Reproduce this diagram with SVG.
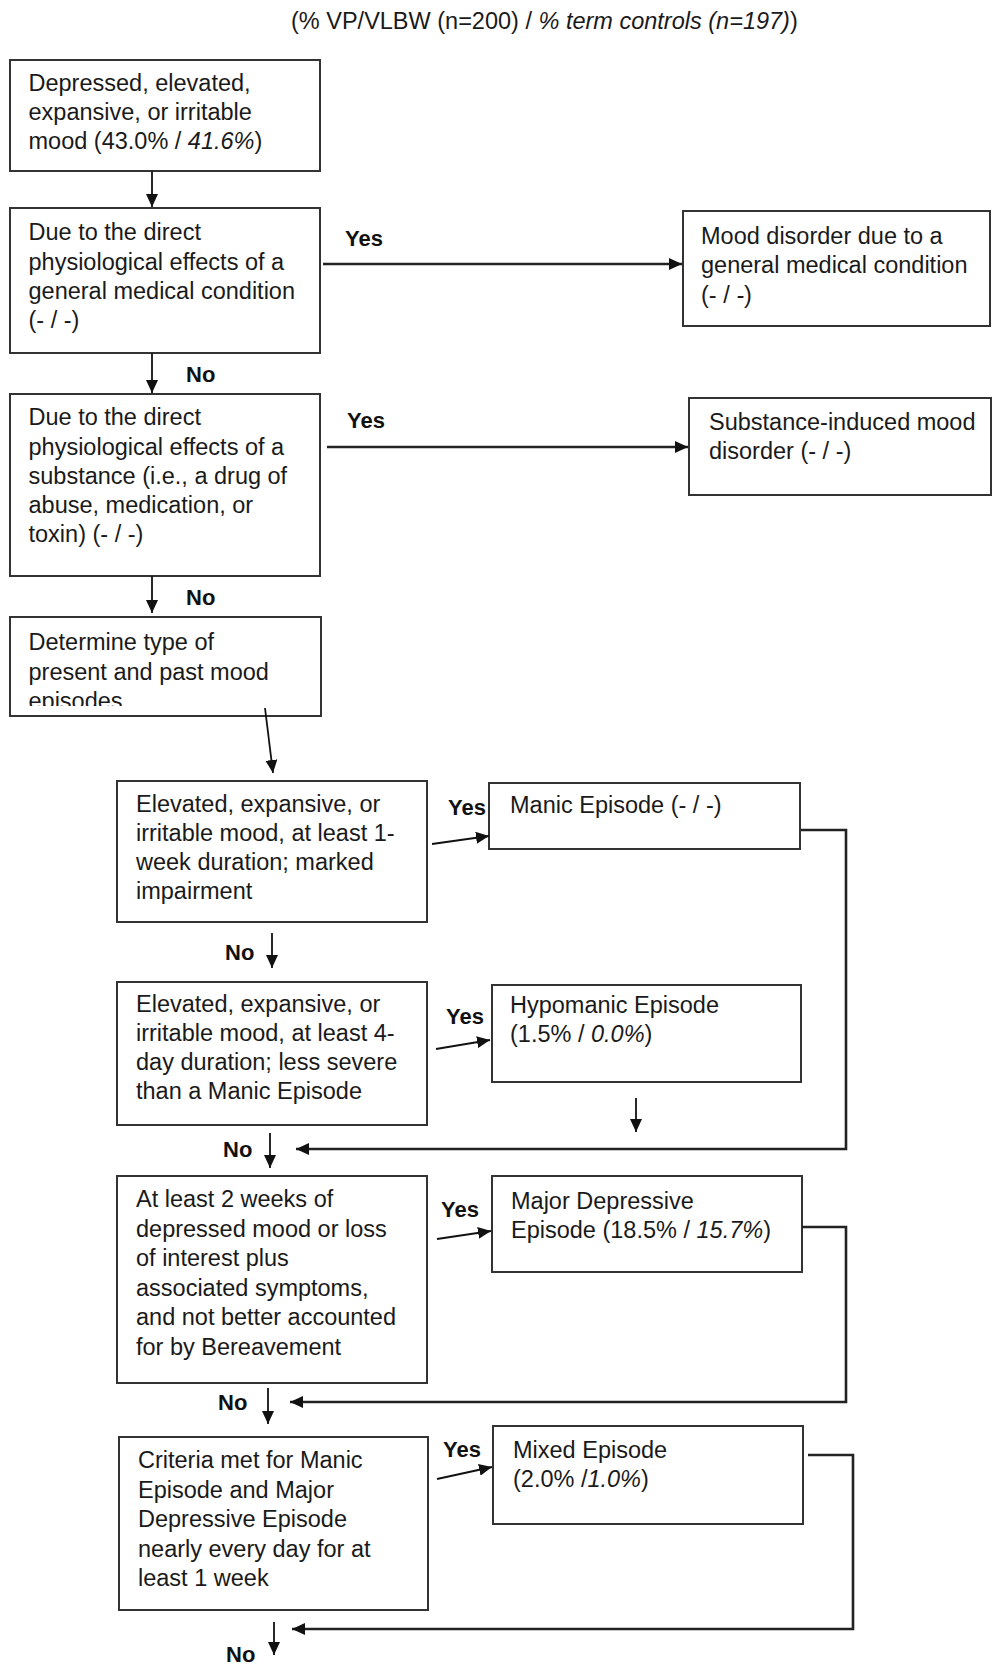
<svg xmlns="http://www.w3.org/2000/svg" width="992" height="1666" viewBox="0 0 992 1666">
<style>
.box{fill:#fff;stroke:#333;stroke-width:2}
.t{font-family:"Liberation Sans",Arial,sans-serif;font-size:23.5px;fill:#1a1a1a}
.lb{font-family:"Liberation Sans",Arial,sans-serif;font-size:22px;font-weight:bold;fill:#111}
.i{font-style:italic}
.c{fill:none;stroke:#111;stroke-width:1.8}
.cy{fill:none;stroke:#222;stroke-width:2.6}
</style>
<defs>
<marker id="ah" markerUnits="userSpaceOnUse" markerWidth="14" markerHeight="12" refX="13" refY="6" orient="auto">
<path d="M0,0 L13,6 L0,12 Z" fill="#111"/>
</marker>
<clipPath id="clip6"><rect x="10" y="617" width="311" height="89"/></clipPath>
</defs>
<text class="t" x="291" y="29">(% VP/VLBW (n=200) / <tspan class="i">% term controls (n=197)</tspan>)</text>
<g id="n1"><rect class="box" x="10" y="60" width="310" height="111"/>
<text class="t"><tspan x="28.5" y="91">Depressed, elevated,</tspan><tspan x="28.5" y="120">expansive, or irritable</tspan><tspan x="28.5" y="149">mood (43.0% / <tspan class="i">41.6%</tspan>)</tspan></text></g>
<g id="n2"><rect class="box" x="10" y="208" width="310" height="145"/>
<text class="t"><tspan x="28.5" y="240">Due to the direct</tspan><tspan x="28.5" y="269.5">physiological effects of a</tspan><tspan x="28.5" y="299">general medical condition</tspan><tspan x="28.5" y="328">(- / -)</tspan></text></g>
<g id="n3"><rect class="box" x="683" y="211" width="307" height="115"/>
<text class="t"><tspan x="701" y="244">Mood disorder due to a</tspan><tspan x="701" y="273">general medical condition</tspan><tspan x="701" y="303">(- / <tspan class="i">-</tspan>)</tspan></text></g>
<g id="n4"><rect class="box" x="10" y="394" width="310" height="182"/>
<text class="t"><tspan x="28.5" y="425">Due to the direct</tspan><tspan x="28.5" y="454.5">physiological effects of a</tspan><tspan x="28.5" y="484">substance (i.e., a drug of</tspan><tspan x="28.5" y="513">abuse, medication, or</tspan><tspan x="28.5" y="542">toxin) (- / -)</tspan></text></g>
<g id="n5"><rect class="box" x="689" y="398" width="302" height="97"/>
<text class="t"><tspan x="709" y="430">Substance-induced mood</tspan><tspan x="709" y="459">disorder (- / -)</tspan></text></g>
<g id="n6"><rect class="box" x="10" y="617" width="311" height="99"/>
<text class="t" clip-path="url(#clip6)"><tspan x="28.5" y="650">Determine type of</tspan><tspan x="28.5" y="679.5">present and past mood</tspan><tspan x="28.5" y="709">episodes</tspan></text></g>
<g id="n7"><rect class="box" x="117" y="781" width="310" height="141"/>
<text class="t"><tspan x="136" y="812">Elevated, expansive, or</tspan><tspan x="136" y="841">irritable mood, at least 1-</tspan><tspan x="136" y="870">week duration; marked</tspan><tspan x="136" y="899">impairment</tspan></text></g>
<g id="n8"><rect class="box" x="489" y="783" width="311" height="66"/>
<text class="t" x="510" y="813">Manic Episode (- / -)</text></g>
<g id="n9"><rect class="box" x="117" y="982" width="310" height="143"/>
<text class="t"><tspan x="136" y="1012">Elevated, expansive, or</tspan><tspan x="136" y="1041">irritable mood, at least 4-</tspan><tspan x="136" y="1070">day duration; less severe</tspan><tspan x="136" y="1099">than a Manic Episode</tspan></text></g>
<g id="n10"><rect class="box" x="492" y="985" width="309" height="97"/>
<text class="t"><tspan x="510" y="1013">Hypomanic Episode</tspan><tspan x="510" y="1042">(1.5% / <tspan class="i">0.0%</tspan>)</tspan></text></g>
<g id="n11"><rect class="box" x="117" y="1176" width="310" height="207"/>
<text class="t"><tspan x="136" y="1207">At least 2 weeks of</tspan><tspan x="136" y="1236.5">depressed mood or loss</tspan><tspan x="136" y="1266">of interest plus</tspan><tspan x="136" y="1295.5">associated symptoms,</tspan><tspan x="136" y="1325">and not better accounted</tspan><tspan x="136" y="1354.5">for by Bereavement</tspan></text></g>
<g id="n12"><rect class="box" x="492" y="1176" width="310" height="96"/>
<text class="t"><tspan x="511" y="1209">Major Depressive</tspan><tspan x="511" y="1238">Episode (18.5% / <tspan class="i">15.7%</tspan>)</tspan></text></g>
<g id="n13"><rect class="box" x="119" y="1437" width="309" height="173"/>
<text class="t"><tspan x="138" y="1468">Criteria met for Manic</tspan><tspan x="138" y="1497.5">Episode and Major</tspan><tspan x="138" y="1527">Depressive Episode</tspan><tspan x="138" y="1556.5">nearly every day for at</tspan><tspan x="138" y="1586">least 1 week</tspan></text></g>
<g id="n14"><rect class="box" x="493" y="1426" width="310" height="98"/>
<text class="t"><tspan x="513" y="1458">Mixed Episode</tspan><tspan x="513" y="1487">(2.0% /<tspan class="i">1.0%</tspan>)</tspan></text></g>
<g id="connectors">
<path class="c" d="M152,171 V207" marker-end="url(#ah)"/>
<path class="cy" d="M323,264 H682" marker-end="url(#ah)"/>
<path class="c" d="M152,353 V393" marker-end="url(#ah)"/>
<path class="cy" d="M327,447 H688" marker-end="url(#ah)"/>
<path class="c" d="M152,576 V613" marker-end="url(#ah)"/>
<path class="c" d="M265,708 L273,773" marker-end="url(#ah)"/>
<path class="c" d="M432,844 L489,836" marker-end="url(#ah)"/>
<path class="cy" d="M801,830 H846 V1149 H296" marker-end="url(#ah)"/>
<path class="c" d="M272,933 V968" marker-end="url(#ah)"/>
<path class="c" d="M436,1049 L490,1040" marker-end="url(#ah)"/>
<path class="c" d="M636,1098 V1132" marker-end="url(#ah)"/>
<path class="c" d="M270,1133 V1168" marker-end="url(#ah)"/>
<path class="c" d="M437,1239 L491,1231" marker-end="url(#ah)"/>
<path class="cy" d="M802,1227 H846 V1402 H290" marker-end="url(#ah)"/>
<path class="c" d="M268,1388 V1424" marker-end="url(#ah)"/>
<path class="c" d="M437,1479 L492,1467" marker-end="url(#ah)"/>
<path class="cy" d="M808,1455 H853 V1629 H292" marker-end="url(#ah)"/>
<path class="c" d="M274,1622 V1655" marker-end="url(#ah)"/>
</g>
<g id="labels">
<text class="lb" x="345" y="246">Yes</text>
<text class="lb" x="186" y="382">No</text>
<text class="lb" x="347" y="428">Yes</text>
<text class="lb" x="186" y="605">No</text>
<text class="lb" x="448" y="815">Yes</text>
<text class="lb" x="225" y="960">No</text>
<text class="lb" x="446" y="1024">Yes</text>
<text class="lb" x="223" y="1157">No</text>
<text class="lb" x="441" y="1217">Yes</text>
<text class="lb" x="218" y="1410">No</text>
<text class="lb" x="443" y="1457">Yes</text>
<text class="lb" x="226" y="1662">No</text>
</g>
</svg>
